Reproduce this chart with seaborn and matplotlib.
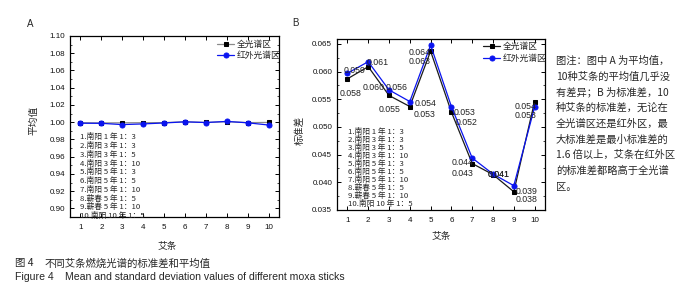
import numpy as np
import pandas as pd
import matplotlib
matplotlib.use("Agg")
import matplotlib.pyplot as plt
from matplotlib.ticker import MultipleLocator
import seaborn as sns

sticks = list(range(1, 11))
stick_names = [
    "1.南阳 1 年 1：3", "2.南阳 3 年 1：3", "3.南阳 3 年 1：5", "4.南阳 3 年 1：10",
    "5.南阳 5 年 1：3", "6.南阳 5 年 1：5", "7.南阳 5 年 1：10", "8.蕲春 5 年 1：5",
    "9.蕲春 5 年 1：10", "10.南阳 10 年 1：5",
]
full_name = "全光谱区"
ir_name = "红外光谱区"
mean_full = [0.9994, 0.9991, 0.9993, 0.9994, 0.9995, 1.0005, 0.9997, 1.0006, 0.9995, 0.9997]
mean_ir = [0.9988, 0.9987, 0.9972, 0.9980, 0.9991, 1.0004, 0.9996, 1.0009, 0.9993, 0.9967]
sd_full = [0.0587, 0.0609, 0.0557, 0.0537, 0.0637, 0.0527, 0.0434, 0.0414, 0.0383, 0.0546]
sd_ir = [0.0597, 0.0618, 0.0567, 0.0546, 0.0648, 0.0537, 0.0444, 0.0415, 0.0394, 0.0536]
note_lines = [
    "图注：图中 A 为平均值，", "10种艾条的平均值几乎没", "有差异；B 为标准差，10",
    "种艾条的标准差，无论在", "全光谱区还是红外区，最", "大标准差是最小标准差的",
    "1.6 倍以上，艾条在红外区", "的标准差都略高于全光谱", "区。",
]

sns.set_theme(style="ticks")
plt.rcParams["font.family"] = ["Liberation Sans", "Noto Sans CJK SC", "DejaVu Sans"]
cjk = ["Noto Sans CJK SC", "DejaVu Sans"]

W, H = 697, 292


def fx(x):
    return x / W


def fy(y):
    return 1 - y / H


df = pd.DataFrame({
    "stick": sticks * 2,
    "mean": mean_full + mean_ir,
    "sd": sd_full + sd_ir,
    "series": [full_name] * 10 + [ir_name] * 10,
})


def draw(ax, col, full_line):
    d = df[df.series == full_name]
    sns.lineplot(data=d, x="stick", y=col, ax=ax, color=full_line, marker="s",
                 markersize=3.3, markerfacecolor="black", markeredgecolor="black",
                 linewidth=0.9, label=full_name)
    d = df[df.series == ir_name]
    sns.lineplot(data=d, x="stick", y=col, ax=ax, color="#0a14f0", marker="o",
                 markersize=3.6, markeredgecolor="#0a14f0", linewidth=0.9, label=ir_name)
    ax.set_xlim(0.5, 10.5)
    ax.xaxis.set_major_locator(MultipleLocator(1))
    ax.tick_params(direction="in", top=True, right=True, labelsize=5.8, length=3,
                   width=0.7, color="black", labelcolor="#111111")
    ax.tick_params(axis="x", pad=5)
    ax.tick_params(which="minor", direction="in", length=1.6, width=0.6, top=True,
                   right=True)
    for s in ax.spines.values():
        s.set_linewidth(0.9)
        s.set_color("black")
    ax.set_xlabel("")
    ax.set_ylabel("")
    ax.legend(loc="upper right", bbox_to_anchor=(1.01, 0.985), frameon=False,
              prop={"family": cjk, "size": 6.3}, handlelength=2.0,
              handletextpad=0.25, labelspacing=0.3, borderaxespad=0, borderpad=0.1)


fig = plt.figure(figsize=(6.97, 2.92), dpi=100)
axA = fig.add_axes([fx(70), fy(217), (279 - 70) / W, (217 - 36) / H])
axB = fig.add_axes([fx(337), fy(210), (545 - 337) / W, (210 - 39) / H])

draw(axA, "mean", "#8a8a8a")
axA.set_ylim(0.89, 1.10)
axA.yaxis.set_major_locator(MultipleLocator(0.02))
axA.yaxis.set_minor_locator(MultipleLocator(0.01))
axA.yaxis.set_major_formatter(lambda v, p: f"{v:.2f}")

draw(axB, "sd", "#1a1a1a")
axB.set_ylim(0.035, 0.0659)
axB.yaxis.set_major_locator(MultipleLocator(0.005))
axB.yaxis.set_minor_locator(MultipleLocator(0.0025))
axB.yaxis.set_major_formatter(lambda v, p: f"{v:.3f}")

# value labels in panel B (pixel offsets from each point)
off_full = [(-8, -15), (-6, -21), (-10, -14), (4, -8), (-22, -10),
            (4, -10), (-21, -10), (-5, 0), (2, -8), (-20, -5)]
off_ir = [(-4, 3), (-2, -1), (-3, 2), (5, -2), (-22, -7),
          (2, -6), (-21, -5), (-5, 0), (2, -6), (-20, -8)]
for vals, offs in [(sd_full, off_full), (sd_ir, off_ir)]:
    for x, v, (dx, dy) in zip(sticks, vals, offs):
        lab = f"{np.floor(v * 1000 + 1e-9) / 1000:.3f}"
        axB.annotate(lab, (x, v), xytext=(dx, dy), textcoords="offset pixels",
                     ha="left", va="center", fontsize=6.3, color="#222222")

# stick legend lists
for i, name in enumerate(stick_names):
    fig.text(fx(80), fy(137.3 + i * 8.74), name, fontsize=5.6, family=cjk,
             va="center", ha="left")
    fig.text(fx(348), fy(132.3 + i * 8.0), name, fontsize=5.6, family=cjk,
             va="center", ha="left")

fig.text(fx(30), fy(24), "A", fontsize=7, ha="center", va="center")
fig.text(fx(295), fy(23), "B", fontsize=7, ha="center", va="center")
fig.text(fx(33), fy(120), "平均值", fontsize=7, family=cjk, rotation=90,
         ha="center", va="center")
fig.text(fx(300), fy(130), "标准差", fontsize=7, family=cjk, rotation=90,
         ha="center", va="center")
fig.text(fx(167), fy(246), "艾条", fontsize=7, family=cjk, ha="center", va="center")
fig.text(fx(441), fy(236), "艾条", fontsize=7, family=cjk, ha="center", va="center")

for i, line in enumerate(note_lines):
    fig.text(fx(556), fy(60.7 + i * 15.75), line, fontsize=7.4, family=cjk,
             ha="left", va="center")

fig.text(fx(15), fy(263.3), "图 4", fontsize=7.5, family=cjk, ha="left", va="center")
fig.text(fx(45), fy(263.3), "不同艾条燃烧光谱的标准差和平均值", fontsize=7.5,
         family=cjk, ha="left", va="center")
fig.text(fx(15), fy(277.3), "Figure 4", fontsize=7.6, ha="left", va="center")
fig.text(fx(65), fy(277.3), "Mean and standard deviation values of different moxa sticks",
         fontsize=7.6, ha="left", va="center")

fig.savefig("out.png", dpi=100, facecolor="white")
